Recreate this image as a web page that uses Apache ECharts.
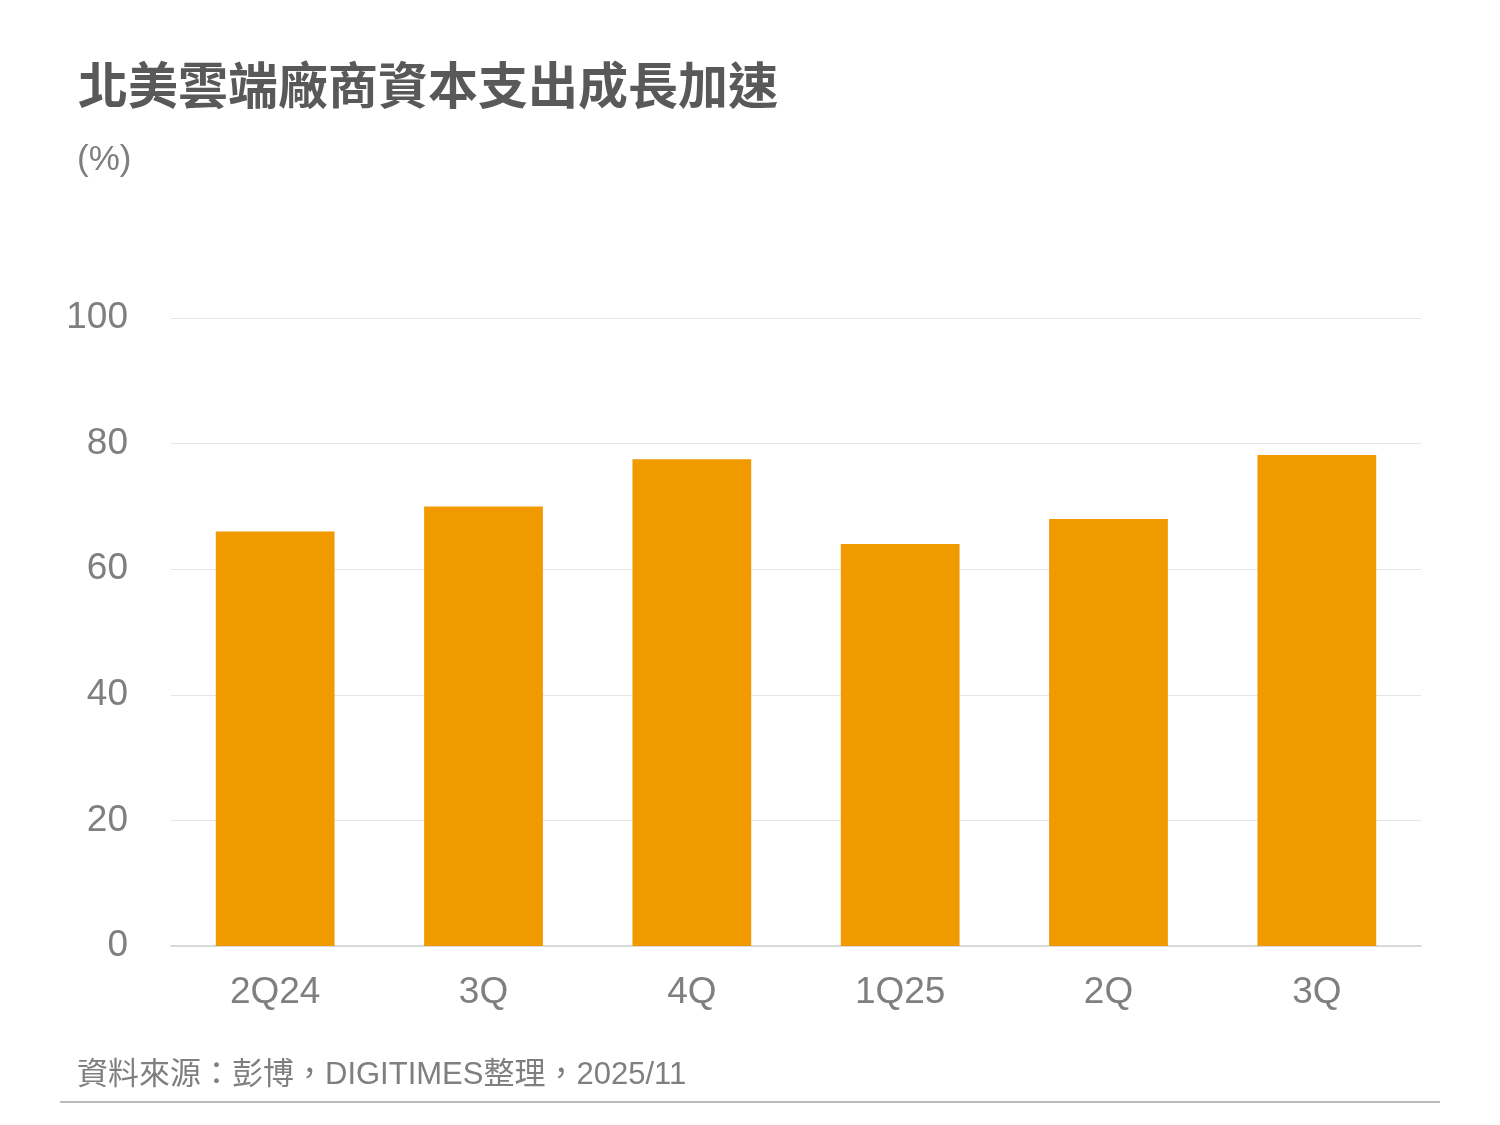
<!DOCTYPE html>
<html><head><meta charset="utf-8">
<script src="https://cdn.jsdelivr.net/npm/echarts@6/dist/echarts.min.js"></script>
<style>html,body{margin:0;padding:0;background:#fff}#c{width:1500px;height:1125px}</style>
</head><body><div id="c"></div>
<script>
const categories = ['2Q24','3Q','4Q','1Q25','2Q','3Q'];
const growth = [66, 70, 77.5, 64, 68, 78.2];
const yTicks = {min:0, max:100, interval:20};
const titleText = '北美雲端廠商資本支出成長加速';
const unitText = '(%)';
const sourceText = '資料來源：彭博，DIGITIMES整理，2025/11';

const chart = echarts.init(document.getElementById('c'));
const cjk = '"Noto Sans CJK TC", "Noto Sans", Arial, sans-serif';
const lat = 'Arial, "Liberation Sans", "Noto Sans CJK TC", sans-serif';
chart.setOption({
  backgroundColor:'#fff',
  animation:false,
  grid:{left:171, right:79, top:318, bottom:179, containLabel:false},
  xAxis:{type:'category', data:categories,
    axisLine:{show:true, lineStyle:{color:'#d9d9d9', width:2}},
    axisTick:{show:false},
    axisLabel:{color:'#7f7f7f', fontSize:37, fontFamily:lat, margin:28}},
  yAxis:{type:'value', min:yTicks.min, max:yTicks.max, interval:yTicks.interval,
    axisLine:{show:false}, axisTick:{show:false},
    splitLine:{lineStyle:{color:'#e6e6e6', width:1}},
    axisLabel:{color:'#7f7f7f', fontSize:37, fontFamily:lat, margin:43}},
  series:[{type:'bar', data:growth, barWidth:'57%', itemStyle:{color:'#f09a00'}}],
  graphic:[
    {type:'text', left:78, top:60, style:{text:titleText, font:'bold 50px '+cjk, fill:'#595959'}},
    {type:'text', left:77, top:143, style:{text:unitText, font:'35px '+lat, fill:'#7f7f7f'}},
    {type:'text', left:77, top:1060, style:{text:sourceText, font:'31px '+lat, fill:'#7f7f7f'}},
    {type:'line', shape:{x1:60, y1:1102, x2:1440, y2:1102}, style:{stroke:'#a6a6a6', lineWidth:1.5}}
  ]
});
</script></body></html>
